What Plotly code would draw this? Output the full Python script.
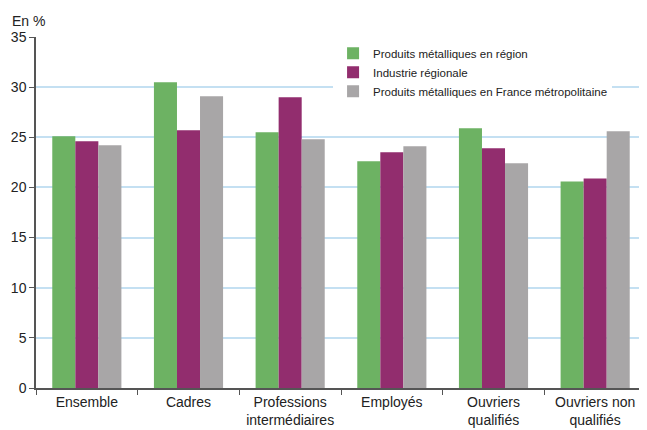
import plotly.graph_objects as go

categories = ["Ensemble", "Cadres", "Professions<br>intermédiaires", "Employés",
              "Ouvriers<br>qualifiés", "Ouvriers non<br>qualifiés"]
series_names = ["Produits métalliques en région", "Industrie régionale",
                "Produits métalliques en France métropolitaine"]
vals_region = [25.1, 30.5, 25.5, 22.6, 25.9, 20.6]
vals_industrie = [24.6, 25.7, 29.0, 23.5, 23.9, 20.9]
vals_france = [24.2, 29.1, 24.8, 24.1, 22.4, 25.6]
y_ticks = [0, 5, 10, 15, 20, 25, 30, 35]

colors = ["#6db263", "#922d6e", "#a8a6a7"]
FONT = "Liberation Sans"

fig = go.Figure()
for name, vals, col in zip(series_names, [vals_region, vals_industrie, vals_france], colors):
    fig.add_trace(go.Bar(x=categories, y=vals, name=name, marker=dict(color=col, line=dict(width=0))))

# page body has an 8px default margin: compensate so the chart fills the 647x430 window
fig.update_layout(
    width=639, height=422,
    margin=dict(l=28, r=1, t=29, b=42),
    paper_bgcolor="white", plot_bgcolor="white",
    barmode="group", bargap=0.32, bargroupgap=0,
    font=dict(family=FONT, color="#222222"),
    showlegend=True,
    legend=dict(x=0.487, y=0.995, xanchor="left", yanchor="top",
                bgcolor="white", font=dict(family=FONT, size=11.5, color="#222222"),
                traceorder="normal", itemsizing="constant"),
    xaxis=dict(type="category", showline=True, linecolor="#555555", linewidth=1.5,
               ticks="outside", tickson="boundaries", ticklen=5, tickcolor="#555555",
               tickfont=dict(family=FONT, size=14, color="#222222"), showgrid=False,
               automargin=False),
    yaxis=dict(range=[0, 35], tickvals=y_ticks, showline=True, linecolor="#555555", linewidth=1.5,
               ticks="outside", ticklen=5, tickcolor="#555555",
               tickfont=dict(family=FONT, size=14, color="#222222"),
               showgrid=True, gridcolor="#c4e0f2", gridwidth=2, zeroline=False,
               automargin=False),
    annotations=[dict(text="En %", xref="paper", yref="paper", x=-0.043, y=1.0,
                      xanchor="left", yanchor="bottom", yshift=6, showarrow=False,
                      font=dict(family=FONT, size=14, color="#222222"))],
    shapes=[dict(type="line", xref="paper", yref="paper", x0=1, x1=1, y0=0, y1=1,
                 line=dict(color="#c4e0f2", width=2))],
)

fig.write_html("out.html")
